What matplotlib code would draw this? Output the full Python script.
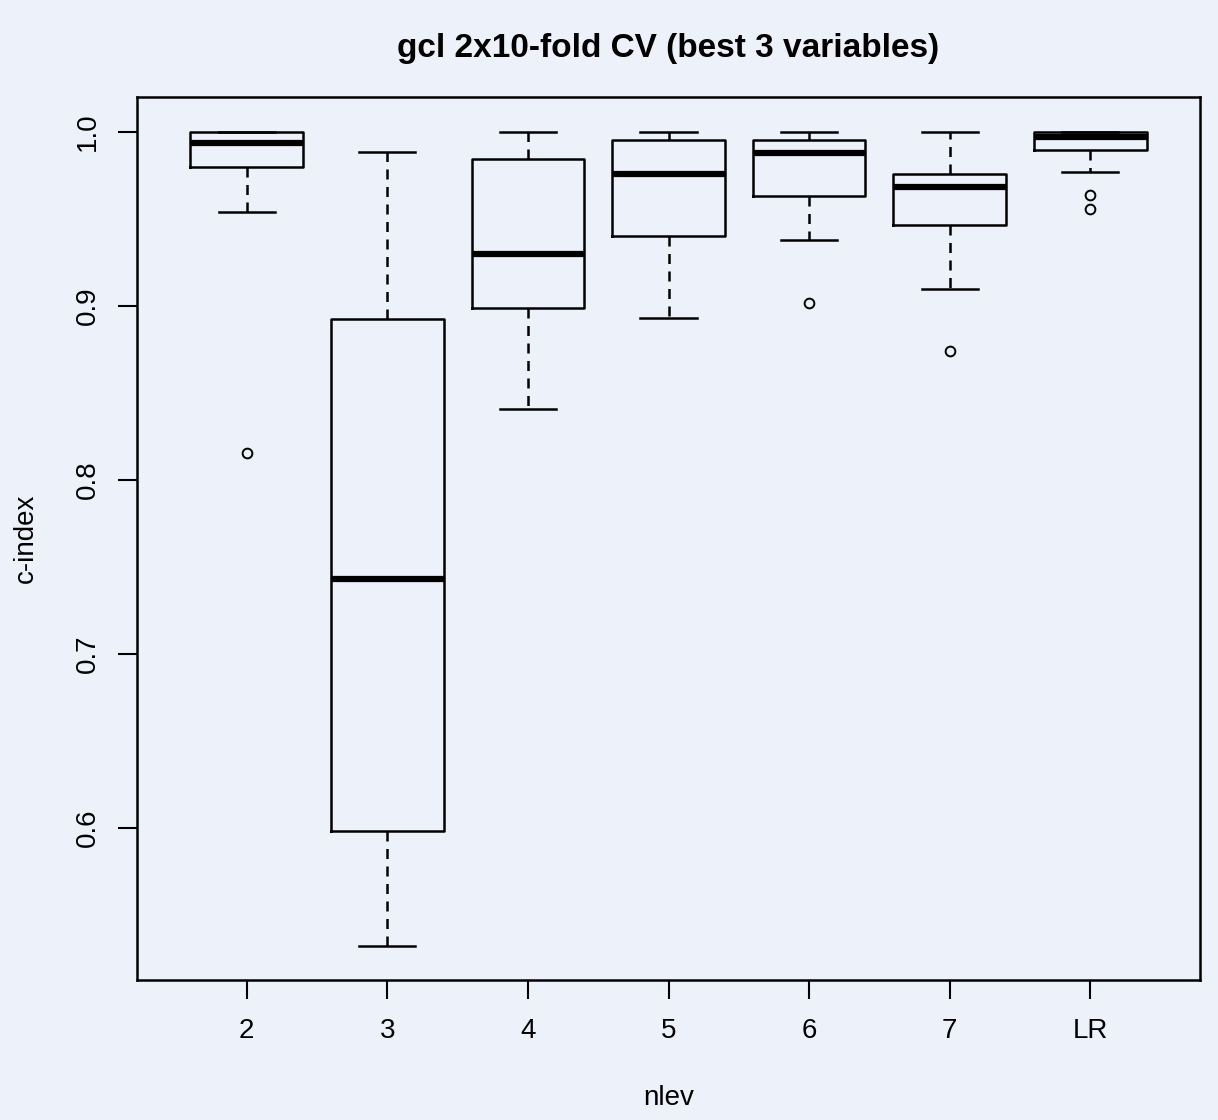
import matplotlib
matplotlib.use("Agg")
import matplotlib.pyplot as plt

plt.rcParams["font.family"] = ["Liberation Sans", "DejaVu Sans"]

BG = "#edf1fa"

# five-number summaries, one entry per group
labels = ["2", "3", "4", "5", "6", "7", "LR"]
whisker_lo = [0.954, 0.532, 0.841, 0.893, 0.938, 0.910, 0.977]
q1 = [0.980, 0.598, 0.899, 0.940, 0.963, 0.9466, 0.9895]
medians = [0.9938, 0.743, 0.930, 0.976, 0.988, 0.9686, 0.997]
q3 = [1.000, 0.8925, 0.9845, 0.9954, 0.9954, 0.976, 1.000]
whisker_hi = [1.000, 0.9885, 1.000, 1.000, 1.000, 1.000, 1.000]
outliers = [[0.8157], [], [], [], [0.9017], [0.874], [0.9638, 0.9556]]

stats = []
for i, lab in enumerate(labels):
    stats.append({
        "label": lab,
        "whislo": whisker_lo[i],
        "q1": q1[i],
        "med": medians[i],
        "q3": q3[i],
        "whishi": whisker_hi[i],
        "fliers": outliers[i],
    })

fig = plt.figure(figsize=(12.18, 11.2), dpi=100, facecolor=BG)
ax = fig.add_axes([137 / 1218, 140 / 1120, 1063 / 1218, 883 / 1120], facecolor=BG)

ax.bxp(
    stats,
    positions=range(1, len(labels) + 1),
    widths=0.8,
    capwidths=0.4,
    boxprops=dict(color="black", linewidth=1.8),
    medianprops=dict(color="black", linewidth=4.5, solid_capstyle="butt"),
    whiskerprops=dict(color="black", linewidth=1.8, linestyle=(0, (4, 3))),
    capprops=dict(color="black", linewidth=1.8),
    flierprops=dict(marker="o", markersize=7, markerfacecolor="none",
                    markeredgecolor="black", markeredgewidth=1.4),
)

ax.set_xlim(0.22, 7.78)
ax.set_ylim(0.5126, 1.0201)
ax.set_yticks([0.6, 0.7, 0.8, 0.9, 1.0])
ax.set_yticklabels(["0.6", "0.7", "0.8", "0.9", "1.0"], rotation=90, va="center")
ax.set_xticks(range(1, len(labels) + 1))
ax.set_xticklabels(labels)
ax.tick_params(axis="both", length=14, width=1.5, labelsize=20, direction="out")
ax.tick_params(axis="y", pad=12)
ax.tick_params(axis="x", pad=13)
for side in ax.spines.values():
    side.set_linewidth(1.8)

ax.set_xlabel("nlev", fontsize=20, labelpad=30)
ax.set_ylabel("c-index", fontsize=20, labelpad=26)
ax.set_title("gcl 2x10-fold CV (best 3 variables)", fontsize=24, fontweight="bold", pad=29)

fig.savefig("out.png", dpi=100, facecolor=BG)
